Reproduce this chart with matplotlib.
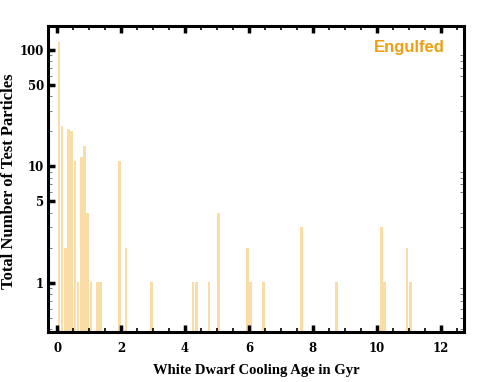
import matplotlib
matplotlib.use("Agg")
import matplotlib.pyplot as plt
import numpy as np
from matplotlib.ticker import FixedLocator, NullFormatter, LogLocator

# Histogram: bin left edges (Gyr), bin width 0.1 Gyr, counts
bin_lefts = [0.0, 0.1, 0.2, 0.3, 0.4, 0.5, 0.6, 0.7, 0.8, 0.9, 1.0, 1.2, 1.3,
             1.9, 2.1, 2.9, 4.2, 4.3, 4.7, 5.0, 5.9, 6.0, 6.4, 7.6, 8.7,
             10.1, 10.2, 10.9, 11.0]
counts = [117, 22, 2, 21, 20, 11, 1, 12, 15, 4, 1, 1, 1,
          11, 2, 1, 1, 1, 1, 4, 2, 1, 1, 3, 1,
          3, 1, 2, 1]
bin_width = 0.1

x_ticks = [0, 2, 4, 6, 8, 10, 12]
y_ticks = [1, 5, 10, 50, 100]
label_text = "Engulfed"

fig = plt.figure(figsize=(4.91, 3.82), dpi=100)
ax = fig.add_axes([0.0978, 0.131, 0.847, 0.801])

ax.bar(np.array(bin_lefts) + bin_width / 2, counts, width=bin_width * 0.82,
       color="#f9dca6", edgecolor="none", bottom=0.01)

ax.set_yscale("log")
ax.set_xlim(-0.29, 12.73)
ax.set_ylim(0.379, 160)

tickfont = ["DejaVu Serif"]
serif = ["Liberation Serif", "DejaVu Serif"]
ax.xaxis.set_major_locator(FixedLocator(x_ticks))
ax.xaxis.set_minor_locator(FixedLocator(np.arange(0, 12.75, 0.5)))
ax.yaxis.set_major_locator(FixedLocator(y_ticks))
ax.yaxis.set_minor_locator(LogLocator(base=10, subs=np.arange(2, 10)))
ax.yaxis.set_minor_formatter(NullFormatter())
ax.set_xticklabels([str(t) for t in x_ticks])
ax.set_yticklabels([str(t) for t in y_ticks])

for lbl in ax.get_xticklabels() + ax.get_yticklabels():
    lbl.set_family(tickfont)
    lbl.set_fontweight("bold")
    lbl.set_fontsize(8.5)

ax.tick_params(which="major", direction="in", length=5, width=2.5,
               top=True, right=True)
ax.tick_params(axis="x", which="major", pad=7)
ax.tick_params(axis="y", which="major", pad=3)
ax.tick_params(which="minor", direction="in", length=3, width=1.2,
               top=True, right=True)
ax.tick_params(axis="y", which="major", right=False)
ax.tick_params(axis="y", which="minor", width=0.6, color="#666666")

for s in ax.spines.values():
    s.set_linewidth(2.2)

ax.set_xlabel("White Dwarf Cooling Age in Gyr", family=serif,
              fontweight="bold", fontsize=10.5, labelpad=7)
fig.text(9.5 / 491, 1 - 181 / 382, "Total Number of Test Particles",
         rotation=90, ha="center", va="center", family=serif,
         fontweight="bold", fontsize=12)

ax.text(0.955, 0.93, label_text, transform=ax.transAxes, ha="right", va="center",
        family=["Liberation Sans", "DejaVu Sans"], fontweight="bold",
        fontsize=12, color="#eea010")

fig.savefig("out.png", dpi=100)
